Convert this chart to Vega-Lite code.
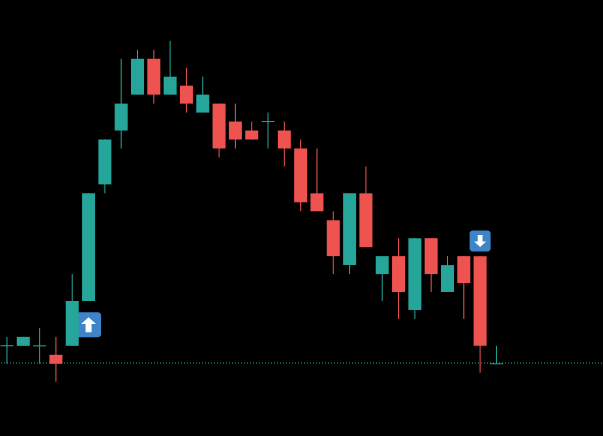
{
"$schema":"https://vega.github.io/schema/vega-lite/v6.json",
"width":603,"height":436,"autosize":{"type":"fit","contains":"padding"},"padding":0,
"background":"#000000","view":{"stroke":null},
"datasets":{"candles":[
{"i":0,"open":2,"close":2,"low":0,"high":3},
{"i":1,"open":2,"close":3,"low":2,"high":3},
{"i":2,"open":2,"close":2,"low":0,"high":4},
{"i":3,"open":1,"close":0,"low":-2,"high":3},
{"i":4,"open":2,"close":7,"low":2,"high":10},
{"i":5,"open":7,"close":19,"low":7,"high":19},
{"i":6,"open":20,"close":25,"low":19,"high":25},
{"i":7,"open":26,"close":29,"low":24,"high":34},
{"i":8,"open":30,"close":34,"low":30,"high":35},
{"i":9,"open":34,"close":30,"low":29,"high":35},
{"i":10,"open":30,"close":32,"low":30,"high":36},
{"i":11,"open":31,"close":29,"low":28,"high":33},
{"i":12,"open":28,"close":30,"low":28,"high":32},
{"i":13,"open":29,"close":24,"low":23,"high":29},
{"i":14,"open":27,"close":25,"low":24,"high":29},
{"i":15,"open":26,"close":25,"low":25,"high":27},
{"i":16,"open":27,"close":27,"low":24,"high":28},
{"i":17,"open":26,"close":24,"low":22,"high":27},
{"i":18,"open":24,"close":18,"low":17,"high":25},
{"i":19,"open":19,"close":17,"low":17,"high":24},
{"i":20,"open":16,"close":12,"low":10,"high":17},
{"i":21,"open":11,"close":19,"low":10,"high":19},
{"i":22,"open":19,"close":13,"low":13,"high":22},
{"i":23,"open":10,"close":12,"low":7,"high":12},
{"i":24,"open":12,"close":8,"low":5,"high":14},
{"i":25,"open":6,"close":14,"low":5,"high":14},
{"i":26,"open":14,"close":10,"low":8,"high":14},
{"i":27,"open":8,"close":11,"low":8,"high":12},
{"i":28,"open":12,"close":9,"low":5,"high":12},
{"i":29,"open":12,"close":2,"low":-1,"high":12},
{"i":30,"open":0,"close":0,"low":0,"high":2}
]},
"data":{"name":"candles"},
"encoding":{
"x":{"field":"i","type":"quantitative","axis":null,"scale":{"domain":[-0.3665,36.47],"nice":false,"zero":false,"padding":0}}
},
"layer":[
{"data":{"values":[{"level":0.09}]},"mark":{"type":"rule","color":"#26a69a","strokeWidth":1,"strokeDash":[1,2]},"encoding":{"x":{},"y":{"field":"level","type":"quantitative","axis":null,"scale":{"domain":[-8.05,40.55],"nice":false,"zero":false}}}},
{"data":{"values":[{"i":5,"y":4.35}]},"mark":{"type":"rect","color":"#3d85c6","width":25,"height":25,"cornerRadius":3},"encoding":{"y":{"field":"y","type":"quantitative"}}},
{"data":{"values":[{"i":5,"y":4.35}]},"mark":{"type":"point","filled":true,"opacity":1,"color":"#ffffff","size":225,"shape":"M0,-1L1,-0.1L0.4,-0.1L0.4,1L-0.4,1L-0.4,-0.1L-1,-0.1Z"},"encoding":{"y":{"field":"y","type":"quantitative"}}},
{"data":{"values":[{"i":29,"y":13.7}]},"mark":{"type":"rect","color":"#3d85c6","width":21,"height":21,"cornerRadius":3},"encoding":{"y":{"field":"y","type":"quantitative"}}},
{"data":{"values":[{"i":29,"y":13.7}]},"mark":{"type":"point","filled":true,"opacity":1,"color":"#ffffff","size":144,"shape":"M0,1L1,0.1L0.4,0.1L0.4,-1L-0.4,-1L-0.4,0.1L-1,0.1Z"},"encoding":{"y":{"field":"y","type":"quantitative"}}},
{"mark":{"type":"rule","strokeWidth":1},"encoding":{"y":{"field":"low","type":"quantitative"},"y2":{"field":"high"},"color":{"condition":{"test":"datum.close < datum.open","value":"#ef5350"},"value":"#26a69a"}}},
{"mark":{"type":"bar","width":13},"encoding":{"y":{"field":"open","type":"quantitative"},"y2":{"field":"close"},"color":{"condition":{"test":"datum.close < datum.open","value":"#ef5350"},"value":"#26a69a"}}},
{"transform":[{"filter":"datum.open === datum.close"}],"mark":{"type":"tick","orient":"horizontal","size":13,"thickness":1,"color":"#26a69a","opacity":1},"encoding":{"y":{"field":"open","type":"quantitative"}}}
]
}
